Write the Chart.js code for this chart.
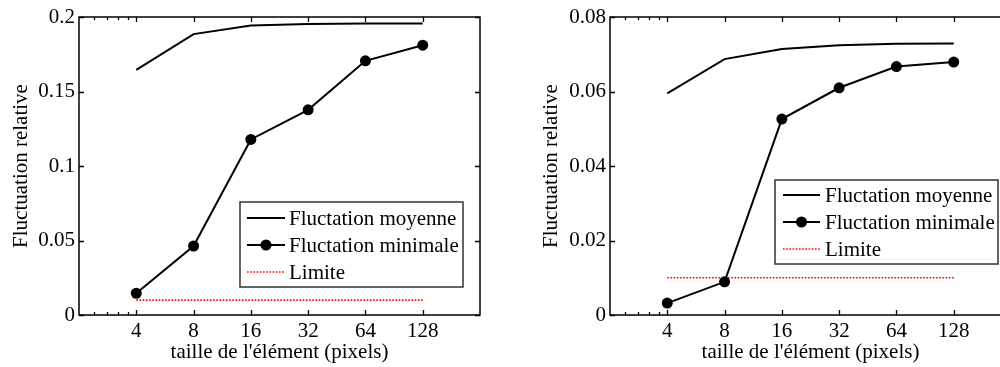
<!DOCTYPE html>
<html><head><meta charset="utf-8">
<script src="https://cdn.jsdelivr.net/npm/chart.js@4"></script>
<style>
html,body{margin:0;padding:0;background:#fff;overflow:hidden;width:1000px;height:367px}
#w1{position:absolute;left:0;top:0;width:500px;height:367px}
#w2{position:absolute;left:500px;top:0;width:520px;height:367px}
</style></head><body>
<div id="w1"><canvas id="c1" width="500" height="367"></canvas></div>
<div id="w2"><canvas id="c2" width="520" height="367"></canvas></div>
<script>
// ---- data ----
const sizes = [4, 8, 16, 32, 64, 128];
const xTickLabels = ['4', '8', '16', '32', '64', '128'];
const xMinorTicks = [2.4, 2.8, 3.2, 3.6];
const seriesNames = ['Fluctation moyenne', 'Fluctation minimale', 'Limite'];

const leftMoyenne  = [0.1645, 0.1885, 0.1943, 0.1953, 0.1956, 0.1957];
const leftMinimale = [0.0146, 0.0463, 0.1178, 0.1377, 0.1706, 0.1811];
const leftLimite   = [0.01, 0.01, 0.01, 0.01, 0.01, 0.01];
const leftYTicks = [0, 0.05, 0.1, 0.15, 0.2];
const leftYTickLabels = ['0', '0.05', '0.1', '0.15', '0.2'];

const rightMoyenne  = [0.0595, 0.0687, 0.0714, 0.0724, 0.0728, 0.0729];
const rightMinimale = [0.0032, 0.0089, 0.0526, 0.0610, 0.0667, 0.0679];
const rightLimite   = [0.01, 0.01, 0.01, 0.01, 0.01, 0.01];
const rightYTicks = [0, 0.02, 0.04, 0.06, 0.08];
const rightYTickLabels = ['0', '0.02', '0.04', '0.06', '0.08'];

const xTitle = "taille de l'élément (pixels)";
const yTitle = 'Fluctuation relative';

// ---- rendering ----
Chart.defaults.font.family = "'Liberation Serif', 'Times New Roman', serif";
Chart.defaults.font.size = 21;
Chart.defaults.color = '#000';

const framePlugin = {
  id: 'frame',
  afterDatasetsDraw(chart, args, opts) {
    const {ctx, chartArea: a} = chart;
    const x = chart.scales.x, y = chart.scales.y;
    ctx.save();
    ctx.strokeStyle = '#000';
    ctx.lineWidth = 1.3;
    ctx.beginPath();
    const major = 5, minor = 3;
    sizes.forEach(v => {
      const px = Math.round(x.getPixelForValue(v)) + 0.5;
      ctx.moveTo(px, a.bottom); ctx.lineTo(px, a.bottom - major);
      ctx.moveTo(px, a.top); ctx.lineTo(px, a.top + major);
    });
    xMinorTicks.forEach(v => {
      const px = Math.round(x.getPixelForValue(v)) + 0.5;
      ctx.moveTo(px, a.bottom); ctx.lineTo(px, a.bottom - minor);
      ctx.moveTo(px, a.top); ctx.lineTo(px, a.top + minor);
    });
    opts.yTicks.forEach(v => {
      const py = Math.round(y.getPixelForValue(v)) + 0.5;
      ctx.moveTo(a.left, py); ctx.lineTo(a.left + major, py);
      ctx.moveTo(a.right, py); ctx.lineTo(a.right - major, py);
    });
    ctx.stroke();
    ctx.lineWidth = 1.5;
    ctx.strokeRect(a.left, a.top, a.right - a.left, a.bottom - a.top);

    // legend
    const L = opts.legend;
    const bx = a.right - L.right - L.width, by = a.bottom - L.bottom - L.height;
    ctx.fillStyle = '#fff';
    ctx.fillRect(bx, by, L.width, L.height);
    ctx.strokeStyle = '#333';
    ctx.lineWidth = 1.5;
    ctx.strokeRect(bx, by, L.width, L.height);
    ctx.font = "21px 'Liberation Serif', 'Times New Roman', serif";
    ctx.textBaseline = 'middle';
    ctx.textAlign = 'left';
    chart.data.datasets.forEach((ds, i) => {
      const ry = by + L.first + i * L.gap;
      const x0 = bx + L.sx0, x1 = bx + L.sx1;
      ctx.save();
      ctx.strokeStyle = ds.borderColor;
      ctx.lineWidth = ds.borderWidth;
      ctx.setLineDash(ds.borderDash || []);
      ctx.beginPath(); ctx.moveTo(x0, ry); ctx.lineTo(x1, ry); ctx.stroke();
      ctx.restore();
      if (ds.pointRadius > 0) {
        ctx.fillStyle = ds.pointBackgroundColor;
        ctx.beginPath(); ctx.arc((x0 + x1) / 2, ry, ds.pointRadius, 0, Math.PI * 2); ctx.fill();
      }
      ctx.fillStyle = '#000';
      ctx.fillText(ds.label, bx + L.tx, ry + 1);
    });
    ctx.restore();
  }
};

function makeChart(id, moy, mini, lim, yTicks, yLabels, geo) {
  const pts = arr => sizes.map((s, i) => ({x: s, y: arr[i]}));
  return new Chart(document.getElementById(id), {
    type: 'line',
    data: {
      datasets: [
        {label: seriesNames[0], data: pts(moy), borderColor: '#000', borderWidth: 2, pointRadius: 0, tension: 0},
        {label: seriesNames[1], data: pts(mini), borderColor: '#000', borderWidth: 2, pointRadius: 5.5,
         pointBackgroundColor: '#000', pointBorderColor: '#000', pointBorderWidth: 0, tension: 0},
        {label: seriesNames[2], data: pts(lim), borderColor: '#ff0000', borderWidth: 1.6, borderDash: [1.6, 1.6], pointRadius: 0, tension: 0}
      ]
    },
    options: {
      responsive: false,
      animation: false,
      devicePixelRatio: 1,
      layout: {padding: {left: 0, top: 17, right: geo.padRight, bottom: 0}},
      plugins: {
        legend: {display: false},
        tooltip: {enabled: false},
        frame: {yTicks: yTicks, legend: geo.legend}
      },
      scales: {
        x: {
          type: 'logarithmic', min: 2, max: 256,
          grid: {display: false, drawTicks: false},
          border: {display: false},
          afterBuildTicks: s => { s.ticks = sizes.map(v => ({value: v})); },
          afterFit: s => { s.height = 52; },
          ticks: {autoSkip: false, maxRotation: 0, padding: 4,
                  callback: (v, i) => xTickLabels[i]},
          title: {display: true, text: xTitle, padding: {top: 0, bottom: 2}}
        },
        y: {
          type: 'linear', min: yTicks[0], max: yTicks[yTicks.length - 1],
          grid: {display: false, drawTicks: false},
          border: {display: false},
          afterBuildTicks: s => { s.ticks = yTicks.map(v => ({value: v})); },
          afterFit: s => { s.width = geo.yWidth; },
          ticks: {padding: 4, callback: (v, i) => yLabels[i]},
          title: {display: true, text: yTitle, padding: {top: geo.yTitlePad, bottom: 0}}
        }
      }
    },
    plugins: [framePlugin]
  });
}

makeChart('c1', leftMoyenne, leftMinimale, leftLimite, leftYTicks, leftYTickLabels, {
  padRight: 20, yWidth: 79, yTitlePad: 9,
  legend: {right: 17, bottom: 28, width: 223, height: 85, first: 16, gap: 27, sx0: 7, sx1: 45, tx: 49}
});
makeChart('c2', rightMoyenne, rightMinimale, rightLimite, rightYTicks, rightYTickLabels, {
  padRight: 9, yWidth: 110, yTitlePad: 39,
  legend: {right: 13, bottom: 51, width: 223, height: 84, first: 15, gap: 27, sx0: 8, sx1: 45, tx: 50}
});
</script>
</body></html>
